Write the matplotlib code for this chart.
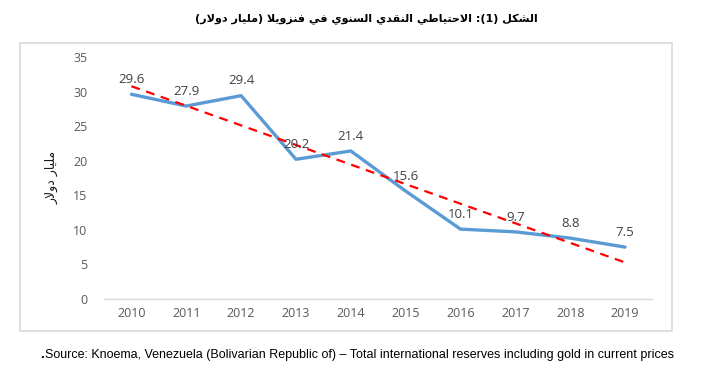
import re
import numpy as np
import matplotlib
matplotlib.use("Agg")
import matplotlib.pyplot as plt
from matplotlib.patches import Rectangle

years = ['2010', '2011', '2012', '2013', '2014', '2015', '2016', '2017', '2018', '2019']
reserves = [29.6, 27.9, 29.4, 20.2, 21.4, 15.6, 10.1, 9.7, 8.8, 7.5]
yticks = [0, 5, 10, 15, 20, 25, 30, 35]

title_ar = 'الشكل (1): الاحتياطي النقدي السنوي في فنزويلا (مليار دولار)'
ylabel_ar = 'مليار دولار'
source_txt = 'Source: Knoema, Venezuela (Bolivarian Republic of) \u2013 Total international reserves including gold in current prices'

# matplotlib has no arabic shaping, so map letters to presentation forms by hand
FORMS = {
    '\u0627': ('\uFE8D', '\uFE8E'),
    '\u062A': ('\uFE95', '\uFE96', '\uFE97', '\uFE98'),
    '\u062D': ('\uFEA1', '\uFEA2', '\uFEA3', '\uFEA4'),
    '\u062F': ('\uFEA9', '\uFEAA'),
    '\u0631': ('\uFEAD', '\uFEAE'),
    '\u0632': ('\uFEAF', '\uFEB0'),
    '\u0633': ('\uFEB1', '\uFEB2', '\uFEB3', '\uFEB4'),
    '\u0634': ('\uFEB5', '\uFEB6', '\uFEB7', '\uFEB8'),
    '\u0637': ('\uFEC1', '\uFEC2', '\uFEC3', '\uFEC4'),
    '\u0641': ('\uFED1', '\uFED2', '\uFED3', '\uFED4'),
    '\u0642': ('\uFED5', '\uFED6', '\uFED7', '\uFED8'),
    '\u0643': ('\uFED9', '\uFEDA', '\uFEDB', '\uFEDC'),
    '\u0644': ('\uFEDD', '\uFEDE', '\uFEDF', '\uFEE0'),
    '\u0645': ('\uFEE1', '\uFEE2', '\uFEE3', '\uFEE4'),
    '\u0646': ('\uFEE5', '\uFEE6', '\uFEE7', '\uFEE8'),
    '\u0648': ('\uFEED', '\uFEEE'),
    '\u064A': ('\uFEF1', '\uFEF2', '\uFEF3', '\uFEF4'),
}
LAM_ALEF = ('\uFEFB', '\uFEFC')


def shape(text):
    chars = []
    i = 0
    while i < len(text):
        if text[i] == '\u0644' and i + 1 < len(text) and text[i + 1] == '\u0627':
            chars.append('LA')
            i += 2
        else:
            chars.append(text[i])
            i += 1

    def joins_next(c):
        return c in FORMS and len(FORMS[c]) == 4

    out = []
    for k, c in enumerate(chars):
        prev = chars[k - 1] if k > 0 else None
        nxt = chars[k + 1] if k + 1 < len(chars) else None
        p = prev is not None and joins_next(prev)
        if c == 'LA':
            out.append(LAM_ALEF[1] if p else LAM_ALEF[0])
            continue
        if c not in FORMS:
            out.append(c)
            continue
        f = FORMS[c]
        n = len(f) == 4 and nxt is not None and (nxt in FORMS or nxt == 'LA')
        if p and n:
            out.append(f[3])
        elif p:
            out.append(f[1])
        elif n:
            out.append(f[2])
        else:
            out.append(f[0])
    v = ''.join(out)[::-1]
    v = re.sub(r'\d+', lambda m: m.group(0)[::-1], v)
    return v.translate(str.maketrans('()', ')('))


fig = plt.figure(figsize=(7.05, 3.77), dpi=100)
ax = fig.add_axes([0.1475, 0.207, 0.778, 0.642])

x = np.arange(len(years))
ax.plot(x, reserves, color='#5B9BD5', linewidth=2.4, solid_capstyle='round', zorder=3)

# linear trend line, like excel
coef = np.polyfit(x, reserves, 1)
ax.plot(x, np.polyval(coef, x), color='red', linewidth=1.6, linestyle=(0, (4, 3)), zorder=4)

for xi, val in zip(x, reserves):
    ax.annotate(f'{val}', (xi, val), xytext=(0, 6), textcoords='offset points',
                ha='center', va='bottom', fontsize=9.5, color='#404040', family='Open Sans', zorder=5)

ax.set_xlim(-0.5, len(years) - 0.5)
ax.set_ylim(0, 35)
ax.set_xticks(x)
ax.set_xticklabels(years, family='Open Sans', fontsize=9, color='#595959')
ax.set_yticks(yticks)
ax.set_yticklabels([str(t) for t in yticks], family='Open Sans', fontsize=9, color='#595959')
ax.tick_params(axis='y', length=0, pad=12)
ax.tick_params(axis='x', length=0, pad=6)
for s in ['top', 'right', 'left']:
    ax.spines[s].set_visible(False)
ax.spines['bottom'].set_color('#D9D9D9')
ax.spines['bottom'].set_linewidth(1.0)

fig.patches.append(Rectangle((0.0284, 0.122), 0.9248, 0.764, transform=fig.transFigure,
                             fill=False, edgecolor='#D9D9D9', linewidth=1.2))

fig.text(0.52, 0.948, shape(title_ar), ha='center', va='center', fontsize=8,
         fontweight='bold', family='DejaVu Sans')
fig.text(0.074, 0.53, shape(ylabel_ar), ha='center', va='center', rotation=90,
         fontsize=9, family='DejaVu Sans', color='#1a1a1a')
fig.text(0.057, 0.058, '.', ha='left', va='center', fontsize=9.5, fontweight='bold',
         family='Liberation Sans')
fig.text(0.064, 0.058, source_txt, ha='left', va='center', fontsize=9.0,
         family='Liberation Sans', color='black')

fig.savefig('out.png', dpi=100)
